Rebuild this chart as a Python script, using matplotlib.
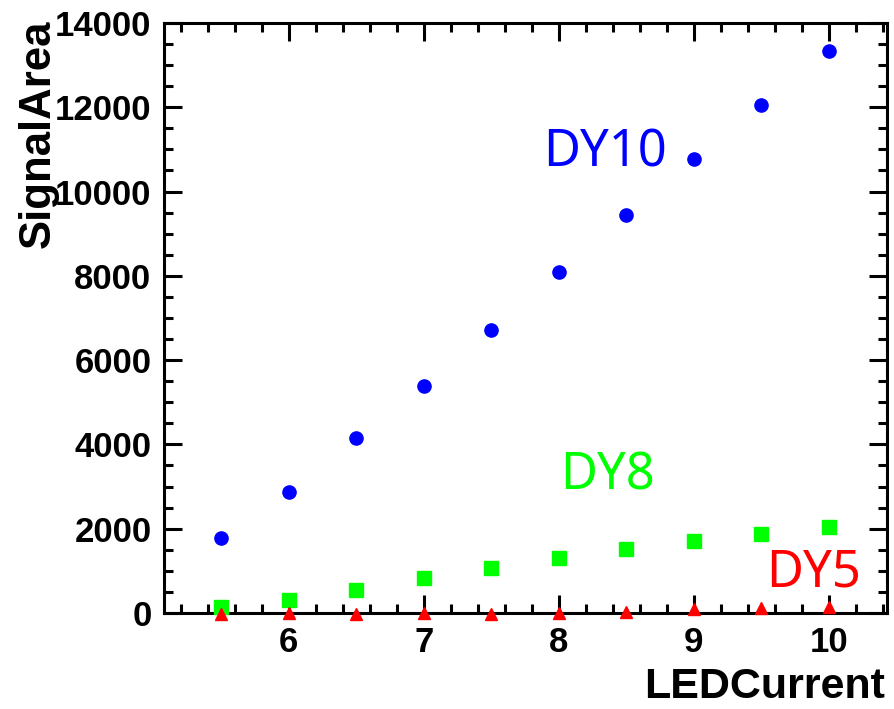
import matplotlib
matplotlib.use('Agg')
import matplotlib.pyplot as plt
from matplotlib.ticker import MultipleLocator

# LED current settings and measured signal areas
led_current = [5.5, 6.0, 6.5, 7.0, 7.5, 8.0, 8.5, 9.0, 9.5, 10.0]
dy10 = [1780, 2870, 4150, 5390, 6710, 8090, 9440, 10770, 12050, 13330]
dy8 = [150, 310, 550, 840, 1075, 1310, 1510, 1715, 1875, 2035]
dy5 = [-20, -10, -20, -10, -20, 5, 25, 90, 110, 140]

fig = plt.figure(figsize=(8.94, 7.09), dpi=100)
ax = fig.add_axes([0.1834, 0.1354, 0.8086, 0.8322])

ax.plot(led_current, dy10, 'o', color='#0000ff', ms=9.5, clip_on=False, zorder=3)
ax.plot(led_current, dy8, 's', color='#00ff00', ms=9.5, clip_on=False, zorder=3)
ax.plot(led_current, dy5, '^', color='#ff0000', ms=9, clip_on=False, zorder=4)

ax.set_xlim(5.075, 10.43)
ax.set_ylim(0, 14000)
ax.xaxis.set_major_locator(MultipleLocator(1))
ax.xaxis.set_minor_locator(MultipleLocator(0.2))
ax.yaxis.set_major_locator(MultipleLocator(2000))
ax.yaxis.set_minor_locator(MultipleLocator(500))

for s in ax.spines.values():
    s.set_linewidth(2.2)

lab_font = {'family': 'Liberation Sans', 'weight': 'bold'}
ax.tick_params(which='both', direction='in', top=True, right=True, width=2.2)
ax.tick_params(which='major', length=13, labelsize=25, pad=9)
ax.tick_params(which='minor', length=6.5)
for lbl in ax.get_xticklabels() + ax.get_yticklabels():
    lbl.set_fontfamily('Liberation Sans')
    lbl.set_fontweight('bold')

ax.text(-0.174, 1.005, 'SignalArea', rotation=90, ha='center', va='top',
        transform=ax.transAxes, fontsize=31.5, **lab_font)
ax.text(0.997, -0.126, 'LEDCurrent', ha='right', va='center',
        transform=ax.transAxes, fontsize=31, **lab_font)

ax.text(0.61, 0.78, 'DY10', color='#0000ff', fontsize=36.5, family='Noto Sans',
        ha='center', va='center', transform=ax.transAxes)
ax.text(0.613, 0.232, 'DY8', color='#00ff00', fontsize=36.5, family='Noto Sans',
        ha='center', va='center', transform=ax.transAxes)
ax.text(0.899, 0.068, 'DY5', color='#ff0000', fontsize=36.5, family='Noto Sans',
        ha='center', va='center', transform=ax.transAxes)

fig.savefig('out.png', dpi=100)
